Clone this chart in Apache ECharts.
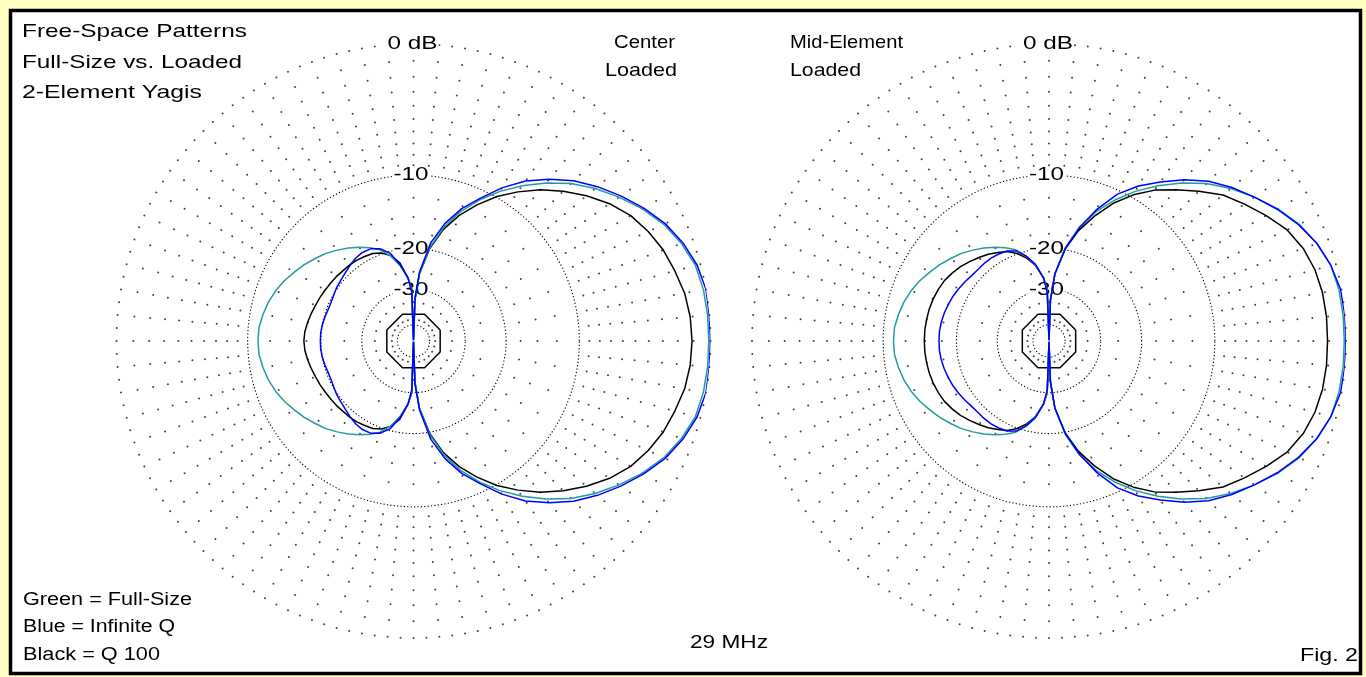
<!DOCTYPE html>
<html><head><meta charset="utf-8">
<script src="https://cdn.jsdelivr.net/npm/echarts@6/dist/echarts.min.js"></script>
<style>html,body{margin:0;padding:0;background:#FFFFC0;overflow:hidden}#c{width:1366px;height:677px}</style>
</head><body><div id="c"></div>
<script>
// ---------- DATA (dB, ARRL log-periodic scale) ----------
const patternAngles = [0,5,10,15,20,25,30,35,40,45,50,55,60,65,70,75,80,85,88,90,92,95,100,105,110,115,120,125,130,135,140,145,150,155,160,165,170,175,180,185,190,195,200,205,210,215,220,225,230,235,240,245,250,255,260,265,268,270,272,275,280,285,290,295,300,305,310,315,320,325,330,335,340,345,350,355,360];

// Full-size (green) - same antenna in both plots
const greenFull = [-0.1,-0.1,-0.15,-0.3,-0.7,-1.25,-2.0,-2.9,-3.85,-4.95,-6.25,-7.7,-9.3,-11.1,-13.2,-15.8,-19.5,-25.5,-34,-100,-30,-26.5,-23.3,-20.9,-19.2,-18.2,-17.3,-16.5,-15.75,-15.0,-14.4,-13.75,-13.2,-12.6,-12.1,-11.7,-11.4,-11.15,-11.1,-11.15,-11.4,-11.7,-12.1,-12.6,-13.2,-13.75,-14.4,-15.0,-15.75,-16.5,-17.3,-18.2,-19.2,-20.9,-23.3,-26.5,-30,-100,-34,-25.5,-19.5,-15.8,-13.2,-11.1,-9.3,-7.7,-6.25,-4.95,-3.85,-2.9,-2.0,-1.25,-0.7,-0.3,-0.15,-0.1,-0.1];

// Center loaded
const centerBlue = [0,0,0,-0.2,-0.6,-1.15,-1.9,-2.75,-3.65,-4.65,-5.85,-7.2,-8.9,-10.9,-12.8,-15.3,-18.7,-25,-33,-100,-31,-26.5,-23,-20.3,-19.0,-18.4,-18.3,-18.5,-18.9,-19.3,-19.6,-19.8,-20.1,-20.3,-20.3,-20.15,-20.0,-19.9,-19.9,-19.9,-20.0,-20.15,-20.3,-20.3,-20.1,-19.8,-19.6,-19.3,-18.9,-18.5,-18.3,-18.4,-19.0,-20.3,-23,-26.5,-31,-100,-33,-25,-18.7,-15.3,-12.8,-10.9,-8.9,-7.2,-5.85,-4.65,-3.65,-2.75,-1.9,-1.15,-0.6,-0.2,0,0,0];
const centerBlack = [-1.1,-1.15,-1.3,-1.6,-1.9,-2.35,-2.9,-3.7,-4.7,-5.8,-7.0,-8.4,-9.9,-11.7,-13.7,-16.2,-19.7,-25.5,-34,-100,-30,-26.5,-22.6,-20.8,-19.8,-19.3,-19.1,-18.9,-18.8,-18.75,-18.6,-18.5,-18.35,-18.15,-17.95,-17.7,-17.45,-17.2,-17.1,-17.2,-17.45,-17.7,-17.95,-18.15,-18.35,-18.5,-18.6,-18.75,-18.8,-18.9,-19.1,-19.3,-19.8,-20.8,-22.6,-26.5,-30,-100,-34,-25.5,-19.7,-16.2,-13.7,-11.7,-9.9,-8.4,-7.0,-5.8,-4.7,-3.7,-2.9,-2.35,-1.9,-1.6,-1.3,-1.15,-1.1];

// Mid-element loaded
const midBlue = [0,0,-0.05,-0.3,-0.7,-1.3,-2.05,-2.9,-3.75,-4.7,-5.9,-7.3,-8.7,-10.4,-12.9,-16.0,-19.8,-25.5,-34,-100,-31,-26.5,-23.0,-20.9,-19.4,-18.8,-18.6,-18.5,-18.5,-18.55,-18.45,-18.2,-17.95,-17.7,-17.5,-17.3,-17.15,-17.05,-17.05,-17.05,-17.15,-17.3,-17.5,-17.7,-17.95,-18.2,-18.45,-18.55,-18.5,-18.5,-18.6,-18.8,-19.4,-20.9,-23.0,-26.5,-31,-100,-34,-25.5,-19.8,-16.0,-12.9,-10.4,-8.7,-7.3,-5.9,-4.7,-3.75,-2.9,-2.05,-1.3,-0.7,-0.3,-0.05,0,0];
const midBlack = [-1.1,-1.1,-1.15,-1.3,-1.6,-2.1,-2.9,-3.75,-4.6,-5.8,-7.0,-8.2,-9.7,-11.5,-13.8,-16.4,-19.8,-25.5,-34,-100,-30,-26.5,-23.3,-21.3,-19.9,-18.9,-18.3,-17.7,-17.2,-16.7,-16.2,-15.8,-15.45,-15.25,-15.1,-15.0,-14.95,-14.9,-14.9,-14.9,-14.95,-15.0,-15.1,-15.25,-15.45,-15.8,-16.2,-16.7,-17.2,-17.7,-18.3,-18.9,-19.9,-21.3,-23.3,-26.5,-30,-100,-34,-25.5,-19.8,-16.4,-13.8,-11.5,-9.7,-8.2,-7.0,-5.8,-4.6,-3.75,-2.9,-2.1,-1.6,-1.3,-1.15,-1.1,-1.1];

// Grid
const outerRingDB = 0, outerRingStep = 2.5;       // sparse-dot outer ring
const ringDottedDB = [-10, -20, -30, -50];         // fine-dot rings
const ringSolidDB = [-40];
const ringLabels = ['0 dB', '-10', '-20', '-30'];
const ringLabelDB = [0, -10, -20, -30];
const outerDotDB = [-1,-2,-3,-4,-5,-6,-7,-8,-9];
const midDotDB = [-12.5,-15,-17.5];
const innerDotDB = [-25,-35,-45];
const outerDotStep = 5, midDotStep = 10, innerDotStep = 15;

// ---------- CHART ----------
const C = [[413.5, 341], [1049, 341]];
const R = 297;
const dbToR = db => Math.pow(0.89, -db / 2);   // ARRL log-periodic radius (0..1)
const chart = echarts.init(document.getElementById('c'), null, {renderer: 'canvas'});

const polar = C.map(c => ({center: c, radius: R}));
const angleAxis = C.map((c, i) => ({polarIndex: i, type: 'value', min: 0, max: 360, startAngle: 0, clockwise: false, show: false}));
const radiusAxis = C.map((c, i) => ({polarIndex: i, type: 'value', min: 0, max: 1, show: false}));

const series = [];
function range(a, b, s) { const o = []; for (let v = a; v <= b + 1e-9; v += s) o.push(v); return o; }
const ringAngles = range(0, 360, 1);
const octAngles = range(22.5, 382.5, 45);

for (let p = 0; p < 2; p++) {
  ringDottedDB.forEach(db => series.push({
    type: 'line', coordinateSystem: 'polar', polarIndex: p, silent: true, symbol: 'none', z: 1,
    data: ringAngles.map(a => [dbToR(db), a]),
    lineStyle: {color: '#000', width: 1.1, type: [1.2, 2.2]}
  }));
  ringSolidDB.forEach(db => series.push({
    type: 'line', coordinateSystem: 'polar', polarIndex: p, silent: true, symbol: 'none', z: 1,
    data: octAngles.map(a => [dbToR(db), a]),
    lineStyle: {color: '#000', width: 1.5}
  }));
  const dots = [];
  range(0, 357.5, outerRingStep).forEach(a => dots.push([dbToR(outerRingDB), a]));
  range(0, 355, outerDotStep).forEach(a => outerDotDB.forEach(db => dots.push([dbToR(db), a])));
  range(0, 355, midDotStep).forEach(a => midDotDB.forEach(db => dots.push([dbToR(db), a])));
  range(0, 355, innerDotStep).forEach(a => innerDotDB.forEach(db => dots.push([dbToR(db), a])));
  series.push({type: 'scatter', coordinateSystem: 'polar', polarIndex: p, silent: true, z: 1,
    symbol: 'circle', symbolSize: 2, itemStyle: {color: '#111'}, data: dots});
}

const traces = [
  [0, centerBlack, '#000000'], [0, greenFull, '#239C9C'], [0, centerBlue, '#0000FF'],
  [1, midBlack, '#000000'], [1, greenFull, '#239C9C'], [1, midBlue, '#0000FF']
];
traces.forEach(([p, vals, col]) => series.push({
  type: 'line', coordinateSystem: 'polar', polarIndex: p, silent: true, symbol: 'none', z: 5,
  data: vals.map((v, i) => [dbToR(v), patternAngles[i]]),
  lineStyle: {color: col, width: 1.5}
}));

// ---------- TEXT ----------
const mctx = document.createElement('canvas').getContext('2d');
const FONT = '"Liberation Sans", Arial, sans-serif';
function txt(str, left, cy, w, size, z) {
  const font = size + 'px ' + FONT;
  mctx.font = font;
  const sx = w / mctx.measureText(str).width;
  return {type: 'text', x: left, y: cy, scaleX: sx, z: z || 3,
    style: {text: str, x: 0, y: 0, font: font, fill: '#000', textAlign: 'left', textVerticalAlign: 'middle'}};
}
const graphics = [
  {type: 'rect', z: 0, shape: {x: 10.5, y: 10.5, width: 1350, height: 663}, style: {fill: '#fff', stroke: '#000', lineWidth: 3.5}},
  txt('Free-Space Patterns', 22, 32, 225, 19),
  txt('Full-Size vs. Loaded', 22, 63, 220, 19),
  txt('2-Element Yagis', 22, 93, 180, 19),
  txt('Center', 614, 43, 61, 19),
  txt('Loaded', 605, 71, 72, 19),
  txt('Mid-Element', 790, 43, 113, 19),
  txt('Loaded', 790, 71, 71, 19),
  txt('Green = Full-Size', 23, 600, 169, 18),
  txt('Blue = Infinite Q', 23, 627, 152, 18),
  txt('Black = Q 100', 23, 655, 137, 18),
  txt('29 MHz', 690, 643, 78, 18),
  txt('Fig. 2', 1300, 656, 58, 19)
];
const labW = [50, 35, 35, 35];
C.forEach(c => {
  ringLabelDB.forEach((db, k) => {
    const cy = c[1] - dbToR(db) * R;
    const w = labW[k];
    const left = c[0] - (k === 0 ? 26 : 20);
    graphics.push({type: 'rect', z: 2, shape: {x: left - 1, y: cy - 8, width: w + 2, height: 16}, style: {fill: '#fff'}});
    graphics.push(txt(ringLabels[k], left, cy, w, 19, 3));
  });
});

chart.setOption({
  animation: false,
  backgroundColor: '#FFFFC0',
  polar, angleAxis, radiusAxis, series,
  graphic: {elements: graphics}
});
</script></body></html>
